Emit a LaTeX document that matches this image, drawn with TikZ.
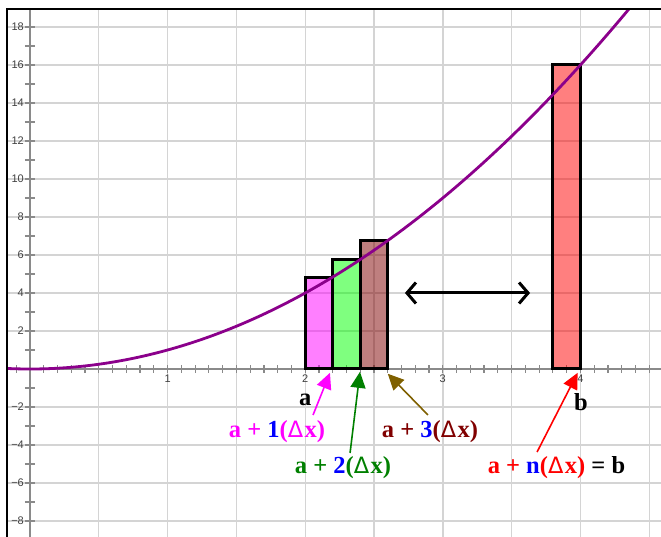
\documentclass[tikz,border=0pt]{standalone}
\usepackage{fontspec}
\setmainfont{Liberation Serif}
\setsansfont{Liberation Sans}
\newfontfamily\dvs{DejaVu Sans}
\newcommand{\dlt}{{\dvs\mdseries\fontsize{22.5}{22.5}\selectfont Δ}\kern1.5pt}
\usetikzlibrary{arrows.meta}
\definecolor{gridc}{HTML}{D4D4D4}
\definecolor{axisc}{HTML}{8A8A8A}
\definecolor{curvec}{HTML}{8B008B}
\definecolor{mag}{HTML}{FF00FF}
\definecolor{grn}{HTML}{008000}
\definecolor{brn}{HTML}{7F6000}
\definecolor{maroonc}{HTML}{800000}
\definecolor{blu}{HTML}{0000FF}
\definecolor{rd}{HTML}{FF0000}
\begin{document}
\begin{tikzpicture}[x=137.6pt,y=19pt,
  gridline/.style={gridc, line width=1.4pt},
  axisline/.style={axisc, line width=1.4pt},
  frameline/.style={black, line width=2.6pt},
  bar/.style={draw=black, line width=3pt, fill opacity=0.5, line join=miter},
  ticklabel/.style={font=\sffamily\fontsize{11}{11}\selectfont, text=black!75, inner sep=0.5pt},
  lbl/.style={font=\bfseries\fontsize{24.5}{24.5}\selectfont, inner sep=0pt},
  ptr/.style={line width=1.6pt, -{Triangle[length=16pt,width=15pt]}},
  dbl/.style={line width=3pt, {Straight Barb[length=9pt,width=21pt]}-{Straight Barb[length=9pt,width=21pt]}},
]
\useasboundingbox (-0.2180,-8.842) rectangle (4.5858,19.421);
\begin{scope}
\clip (-0.1672,-8.842) rectangle (4.5858,18.947);
% grid
\foreach \gx in {0.5,1,...,4.5} \draw[gridline] (\gx,-9) -- (\gx,19);
\foreach \gy in {-8,-6,...,18} \draw[gridline] (-0.2,\gy) -- (4.6,\gy);
% axes
\draw[axisline] (0,-9) -- (0,19);
\draw[axisline] (-0.2,0) -- (4.6,0);
\foreach \t in {-8,...,18} \draw[axisline, line width=1.3pt] (-5pt,\t) -- (5pt,\t);
\foreach \t in {-1,...,45} \draw[axisline, line width=1.2pt] (\t/10,-4pt) -- (\t/10,4pt);
\end{scope}
% tick labels
\foreach \t/\s in {18/18,16/16,14/14,12/12,10/10,8/8,6/6,4/4,2/2,-2/−2,-4/−4,-6/−6,-8/−8}
  \node[ticklabel, anchor=east] (yl\t) at ([xshift=-5.5pt]0,\t) {\s};
\foreach \t in {1,2,3,4}
  \node[ticklabel, anchor=north] (xl\t) at ([yshift=-5.5pt]\t,0) {\t};
% bars
\draw[bar, fill=mag] (2,0) rectangle (2.2,4.84);
\draw[bar, fill=green] (2.2,0) rectangle (2.4,5.76);
\draw[bar, fill=maroonc] (2.4,0) rectangle (2.6,6.76);
\draw[bar, fill=rd] (3.8,0) rectangle (4.0,16);
% curve
\begin{scope}
\clip (-0.1672,-8.842) rectangle (4.5858,18.947);
\draw[curvec, line width=2.8pt, domain=-0.17:4.4, samples=120] plot (\x,{\x*\x});
\end{scope}
% frame
\draw[frameline] (-0.1672,-8.842) -- (-0.1672,18.947) -- (4.5858,18.947);
% labels a, b
\node[lbl, text height=1.05ex, text depth=0pt] (la) at (2.0,-1.78) {a};
\node[lbl] (lb) at (4.004,-1.74) {b};
% text labels
\node[lbl, text=mag] (t1) at (1.795,-3.32) {a + {\color{blu}1}(\dlt x)};
\node[lbl, text=grn] (t2) at (2.275,-5.21) {a + {\color{blu}2}(\dlt x)};
\node[lbl, text=maroonc] (t3) at (2.907,-3.32) {a + {\color{blu}3}(\dlt x)};
\node[lbl, text=rd] (t4) at (3.826,-5.21) {a + {\color{blu}n}(\dlt x) {\color{black}= b}};
% arrow endpoints
\coordinate (h1) at (2.18,-0.2);
\coordinate (s1) at (2.057,-2.42);
\coordinate (h2) at (2.398,-0.15);
\coordinate (s2) at (2.326,-4.42);
\coordinate (h3) at (2.6,-0.25);
\coordinate (s3) at (2.892,-2.42);
\coordinate (h4) at (3.98,-0.2);
\coordinate (s4) at (3.685,-4.37);
\coordinate (dl) at (2.725,4);
\coordinate (dr) at (3.634,4);
\draw[ptr, mag] (s1) -- (h1);
\draw[ptr, grn] (s2) -- (h2);
\draw[ptr, brn] (s3) -- (h3);
\draw[ptr, rd] (s4) -- (h4);
\draw[dbl] (dl) -- (dr);
\end{tikzpicture}
\end{document}
